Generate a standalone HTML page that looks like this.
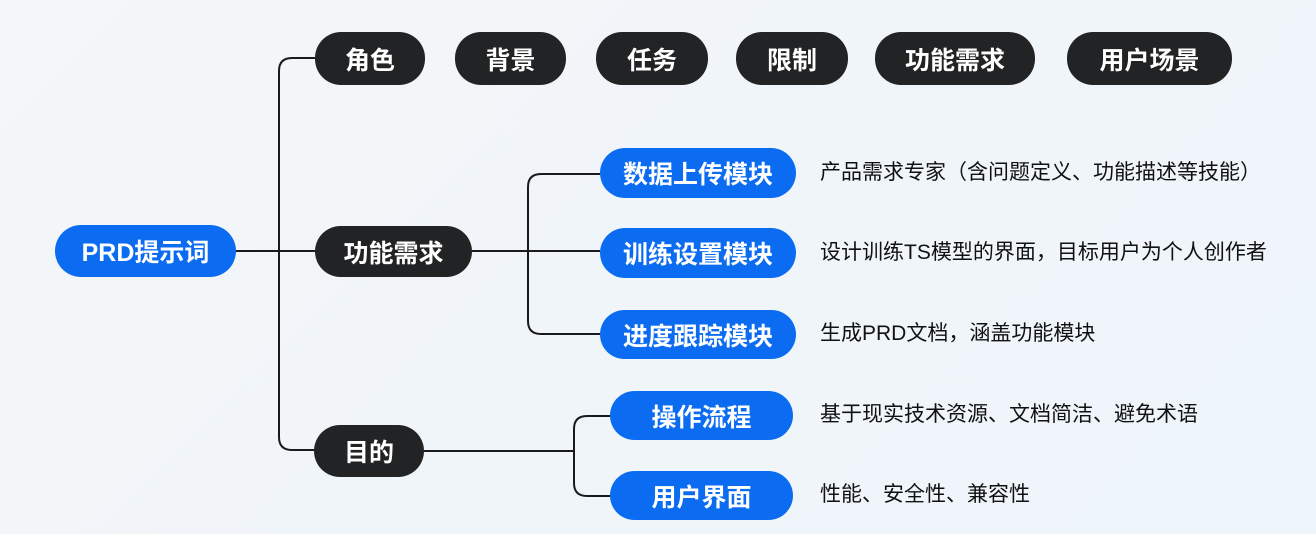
<!DOCTYPE html>
<html><head><meta charset="utf-8"><style>
body{margin:0;width:1316px;height:534px;overflow:hidden;background:linear-gradient(135deg,#f4f6f8 0%,#f0f5f9 50%,#eef5fa 100%);font-family:"Liberation Sans","Noto Sans CJK SC",sans-serif;position:relative}
.n{position:absolute;border-radius:26px;color:#fff;font-weight:bold;font-size:25px;display:flex;align-items:center;justify-content:center;box-sizing:border-box}
.d{background:#222324}.b{background:#0b6cf2}
.t{position:absolute;font-size:21px;color:#111;line-height:1}
svg{position:absolute;left:0;top:0}
</style></head><body>
<svg width="1316" height="534"><g fill="none" stroke="#1a1a1a" stroke-width="2">
<path d="M315 58 H292 Q279 58 279 71 V437 Q279 450 292 450 H315"/>
<path d="M236 251 H315"/>
<path d="M472 251 H600"/>
<path d="M600 174 H541 Q528 174 528 187 V321 Q528 334 541 334 H600"/>
<path d="M424 451 H574"/>
<path d="M610 416 H587 Q574 416 574 429 V483 Q574 496 587 496 H610"/>
</g></svg>
<div class="n b" style="left:55px;top:225px;width:181px;height:52px">PRD提示词</div>
<div class="n d" style="left:315px;top:32px;width:110px;height:53px">角色</div>
<div class="n d" style="left:455px;top:32px;width:111px;height:53px">背景</div>
<div class="n d" style="left:596px;top:32px;width:112px;height:53px">任务</div>
<div class="n d" style="left:736px;top:32px;width:112px;height:53px">限制</div>
<div class="n d" style="left:875px;top:32px;width:160px;height:53px">功能需求</div>
<div class="n d" style="left:1067px;top:32px;width:165px;height:53px">用户场景</div>
<div class="n d" style="left:315px;top:226px;width:157px;height:51px">功能需求</div>
<div class="n b" style="left:600px;top:148px;width:196px;height:50px">数据上传模块</div>
<div class="n b" style="left:600px;top:228px;width:196px;height:50px">训练设置模块</div>
<div class="n b" style="left:600px;top:310px;width:196px;height:49px">进度跟踪模块</div>
<div class="n d" style="left:314px;top:425px;width:110px;height:52px">目的</div>
<div class="n b" style="left:610px;top:391px;width:183px;height:49px">操作流程</div>
<div class="n b" style="left:610px;top:471px;width:183px;height:49px">用户界面</div>
<div class="t" style="left:820px;top:162px">产品需求专家（含问题定义、功能描述等技能）</div>
<div class="t" style="left:820px;top:242px">设计训练TS模型的界面，目标用户为个人创作者</div>
<div class="t" style="left:820px;top:323px">生成PRD文档，涵盖功能模块</div>
<div class="t" style="left:820px;top:404px">基于现实技术资源、文档简洁、避免术语</div>
<div class="t" style="left:820px;top:484px">性能、安全性、兼容性</div>
</body></html>
